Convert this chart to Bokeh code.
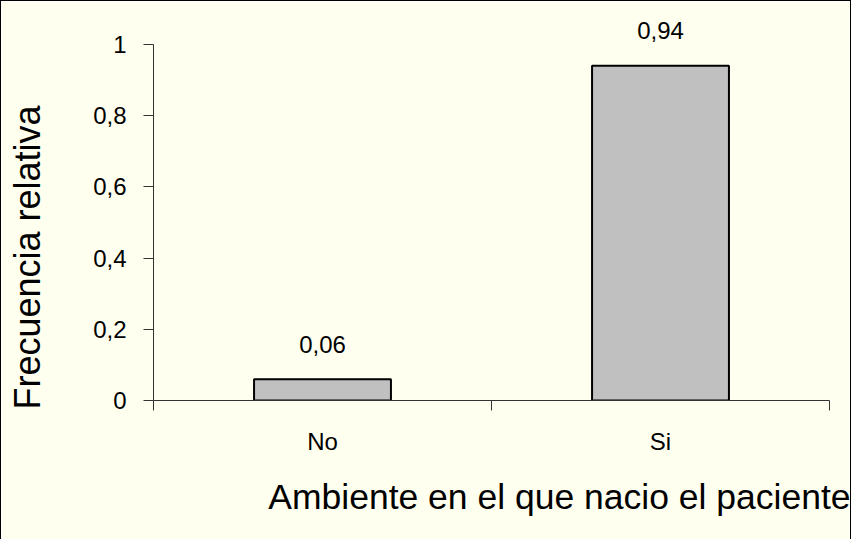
from bokeh.plotting import figure
from bokeh.models import Range1d, FixedTicker, Title, ColumnDataSource, LinearAxis
from bokeh.embed import file_html
from bokeh.resources import INLINE
from bokeh.core.properties import value

categories = ["No", "Si"]
frequencies = [0.06, 0.94]
value_labels = ["0,06", "0,94"]
y_ticks = [0, 0.2, 0.4, 0.6, 0.8, 1]
y_tick_labels = ["0", "0,2", "0,4", "0,6", "0,8", "1"]
x_title = "Ambiente en el que nacio el paciente"
y_title = "Frecuencia relativa"

FONT = "Liberation Sans"
BG = "#FFFFF0"
AXIS = "#333333"

positions = [i + 0.5 for i in range(len(categories))]
boundaries = [float(i) for i in range(len(categories) + 1)]
src = ColumnDataSource(dict(x=positions, top=frequencies, label=value_labels))

p = figure(width=851, height=539,
           x_range=Range1d(0, len(categories)), y_range=Range1d(0, 1.0899),
           output_backend="svg", toolbar_location=None)
p.min_border_left = 151
p.min_border_right = 23
p.min_border_top = 11
p.min_border_bottom = 140
p.background_fill_color = BG
p.border_fill_color = BG
p.outline_line_color = None
p.grid.visible = False
p.styles = {"border-left": "1px solid black", "border-top": "1px solid black",
            "border-right": "1px solid black"}

# bars
p.vbar(x="x", top="top", bottom=0, width=0.405, source=src,
       fill_color="#C0C0C0", line_color="black", line_width=2)

# value labels
p.text(x="x", y="top", text="label", source=src, text_align="center",
       text_baseline="alphabetic", y_offset=-35,
       text_font=value(FONT), text_font_size="24px", text_color="black")

# x axis
xa = p.xaxis[0]
xa.ticker = FixedTicker(ticks=positions, minor_ticks=boundaries)
xa.major_label_overrides = dict(zip(positions, categories))
xa.major_tick_line_color = None
xa.major_tick_out = 10
xa.major_tick_in = 0
xa.minor_tick_line_color = AXIS
xa.minor_tick_out = 10
xa.minor_tick_in = 0
xa.axis_line_color = AXIS
xa.major_label_standoff = 17
xa.major_label_text_font = FONT
xa.major_label_text_font_size = "24px"
xa.major_label_text_color = "black"

# y axis
ya = p.yaxis[0]
ya.ticker = FixedTicker(ticks=y_ticks, minor_ticks=[])
ya.major_label_overrides = dict(zip(y_ticks, y_tick_labels))
ya.bounds = (0, 1)
ya.major_tick_out = 10
ya.major_tick_in = 0
ya.major_tick_line_color = AXIS
ya.axis_line_color = AXIS
ya.major_label_standoff = 17
ya.major_label_text_font = FONT
ya.major_label_text_font_size = "24px"
ya.major_label_text_color = "black"

# invisible spacer panel between the y axis and its title
spacer = LinearAxis(ticker=FixedTicker(ticks=[0.5], minor_ticks=[]),
                    axis_line_color=None, major_tick_line_color=None,
                    minor_tick_line_color=None, major_tick_out=36, major_tick_in=0,
                    minor_tick_out=0, minor_tick_in=0, major_label_standoff=0,
                    major_label_overrides={0.5: ""},
                    major_label_text_color=None, major_label_text_font_size="1px")
p.add_layout(spacer, "left")

# axis titles as side titles
p.add_layout(Title(text=x_title, align="right", offset=-21, standoff=34,
                   text_font=FONT, text_font_size="35.5px", text_font_style="normal",
                   text_color="black"), "below")
p.add_layout(Title(text=y_title, align="left", offset=-9, standoff=10,
                   vertical_align="top",
                   text_font=FONT, text_font_size="36px", text_font_style="normal",
                   text_color="black"), "left")

open("out.html", "w").write(file_html(p, INLINE))
